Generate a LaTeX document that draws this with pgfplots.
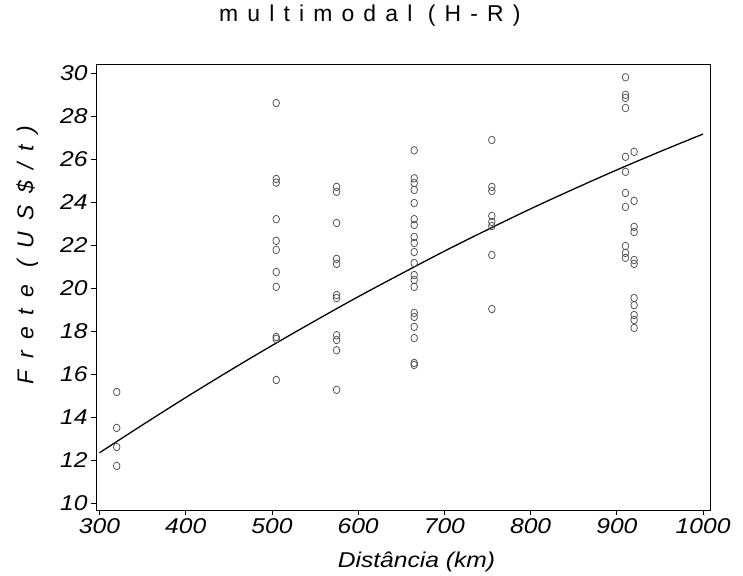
\documentclass[border=0pt]{standalone}
\usepackage{pgfplots}
\pgfplotsset{compat=1.18}
\usepackage{fontspec}
\setmainfont{Liberation Sans}
\newfontface\ylabfont[LetterSpace=50]{Liberation Sans Italic}
\newfontface\titlefont[LetterSpace=40]{Liberation Sans}
\newfontface\tickfont[FakeStretch=1.15]{Liberation Sans Italic}
\begin{document}
\begin{tikzpicture}[x=1bp,y=1bp]
\useasboundingbox (-96bp,-66bp) rectangle (647bp,510bp);
\begin{axis}[
  at={(0,0)}, anchor=south west,
  scale only axis, width=614bp, height=445bp,
  xmin=296, xmax=1008, ymin=9.67, ymax=30.37,
  xtick={300,400,...,1000}, ytick={10,12,...,30},
  scaled ticks=false,
  tick pos=left, tick align=outside, major tick length=5bp,
  axis line style={line width=1pt},
  tick style={line width=0.8pt, black},
  xticklabel={\pgfmathprintnumber[assume math mode=true,1000 sep={}]{\tick}},
  yticklabel={\pgfmathprintnumber[assume math mode=true]{\tick}},
  tick label style={font=\fontsize{21.5}{23}\tickfont},
  title={\titlefont multimodal (H-R)},
  title style={at={(axis description cs:0.446,1.097)}, anchor=center, font=\fontsize{23}{25}\selectfont},
  xlabel={\tickfont Distância (km)},
  xlabel style={at={(axis description cs:0.522,-0.117)}, anchor=center, font=\fontsize{21.5}{23}\selectfont},
  ylabel={\ylabfont Frete (US\$/t)},
  ylabel style={at={(axis description cs:-0.112,0.573)}, anchor=center, font=\fontsize{23}{25}\selectfont},
]
\addplot[only marks, mark=o, mark size=3.3bp, black!70, mark options={line width=0.75pt, yscale=1.15}] coordinates {
(320,15.16) (320,13.49) (320,12.6) (320,11.72)
(505,28.6) (505,25.07) (505,24.9) (505,23.2) (505,22.19) (505,21.77) (505,20.74) (505,20.05) (505,17.72) (505,17.63) (505,15.72)
(575,24.7) (575,24.47) (575,23.02) (575,21.35) (575,21.12) (575,19.67) (575,19.53) (575,17.8) (575,17.58) (575,17.1) (575,15.26)
(665,26.4) (665,25.1) (665,24.88) (665,24.56) (665,23.95) (665,23.2) (665,22.93) (665,22.37) (665,22.09) (665,21.67) (665,21.16) (665,20.6) (665,20.37) (665,20.05) (665,18.84) (665,18.65) (665,18.19) (665,17.67) (665,16.51) (665,16.42)
(755,26.88) (755,24.7) (755,24.51) (755,23.35) (755,23.07) (755,22.88) (755,21.53) (755,19.02)
(910,29.8) (910,28.98) (910,28.84) (910,28.37) (910,26.1) (910,25.4) (910,24.42) (910,23.77) (910,21.95) (910,21.63) (910,21.4)
(920,26.33) (920,24.05) (920,22.84) (920,22.6) (920,21.3) (920,21.12) (920,19.53) (920,19.2) (920,18.74) (920,18.51) (920,18.14)
};
\addplot[black, line width=1.3pt, smooth] coordinates {
(300,12.33) (350,13.63) (400,14.90) (450,16.13) (500,17.32) (550,18.47) (600,19.59) (650,20.66) (700,21.71) (750,22.71) (800,23.68) (850,24.60) (900,25.49) (950,26.34) (1000,27.16)
};
\end{axis}
\end{tikzpicture}
\end{document}
